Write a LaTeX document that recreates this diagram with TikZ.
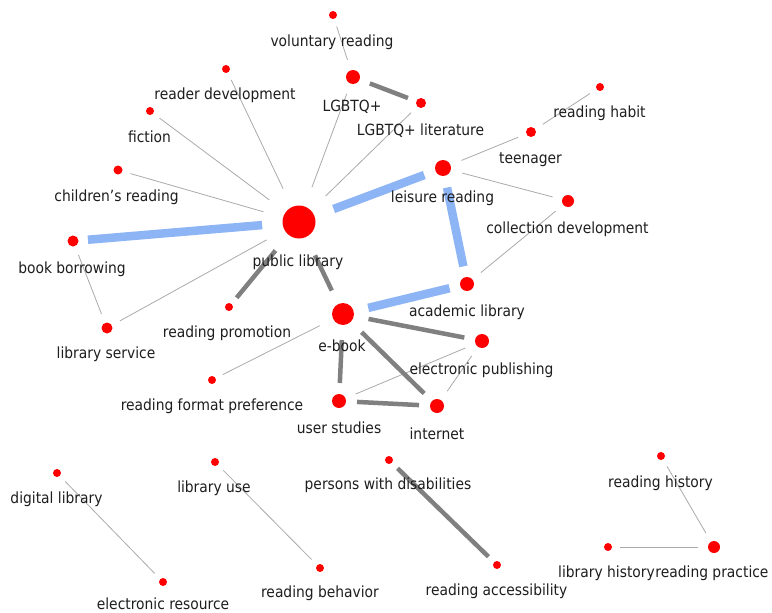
\documentclass[tikz,border=0pt]{standalone}
\usepackage{fontspec}
\setmainfont{DejaVu Sans Condensed}
\pgfdeclarelayer{bg}
\pgfsetlayers{bg,main}
\definecolor{nodered}{RGB}{255,0,0}
\definecolor{blueedge}{RGB}{141,180,245}
\definecolor{grayedge}{RGB}{128,128,128}
\definecolor{thinedge}{RGB}{170,170,170}
\definecolor{labeltext}{RGB}{30,30,30}
\tikzset{
  dot/.style={circle, fill=nodered, inner sep=0pt, minimum size={2*#1pt}, outer sep={#1pt+4pt}},
  lbl/.style={anchor=base, inner sep=0pt, text=labeltext, font=\fontsize{15.4}{18}\selectfont},
  tedge/.style={draw=thinedge, line width=0.8pt},
  gedge/.style={draw=grayedge, line width=4.5pt},
  bedge/.style={draw=blueedge, line width=8.5pt},
}
\begin{document}
\begin{tikzpicture}[x=1pt,y=-1pt]
\useasboundingbox (0,0) rectangle (772,613);
% nodes
\node[dot=16.5] (pl) at (299,222) {};
\node[dot=4] (vr) at (333,15) {};
\node[dot=7] (lg) at (353,77) {};
\node[dot=5] (lgl) at (421,103) {};
\node[dot=4] (rd) at (226,69) {};
\node[dot=4] (fi) at (150,111) {};
\node[dot=4.5] (cr) at (118,170) {};
\node[dot=5.5] (bb) at (73,241) {};
\node[dot=5.5] (ls) at (107,328) {};
\node[dot=4] (rp) at (229,307) {};
\node[dot=4] (rfp) at (212,380) {};
\node[dot=11] (eb) at (343,314) {};
\node[dot=7] (us) at (339,401) {};
\node[dot=8] (lr) at (443,168) {};
\node[dot=5] (te) at (531,132) {};
\node[dot=4] (rh) at (600,87) {};
\node[dot=6] (cd) at (568,201) {};
\node[dot=7] (al) at (467,284) {};
\node[dot=7] (ep) at (482,341) {};
\node[dot=7] (in) at (437,406) {};
\node[dot=4] (pwd) at (389,460) {};
\node[dot=4] (ra) at (497,565) {};
\node[dot=4] (rhi) at (661,456) {};
\node[dot=4] (lh) at (608,547) {};
\node[dot=6] (rpr) at (714,547) {};
\node[dot=4] (dl) at (57,473) {};
\node[dot=4] (er) at (163,582) {};
\node[dot=4] (lu) at (215,462) {};
\node[dot=4] (rb) at (320,568) {};
% labels
\node[lbl] (t-vr) at (332,46) {voluntary reading};
\node[lbl] (t-rd) at (225,99) {reader development};
\node[lbl] (t-lg) at (352,111) {LGBTQ+};
\node[lbl] (t-fi) at (149.5,142) {fiction};
\node[lbl] (t-cr) at (116.5,201) {children’s reading};
\node[lbl] (t-bb) at (72,273) {book borrowing};
\node[lbl] (t-pl) at (298,266) {public library};
\node[lbl] (t-lgl) at (420.5,135) {LGBTQ+ literature};
\node[lbl] (t-rh) at (599.5,117) {reading habit};
\node[lbl] (t-te) at (530.5,163) {teenager};
\node[lbl] (t-lr) at (442.5,202) {leisure reading};
\node[lbl] (t-cd) at (567.5,233) {collection development};
\node[lbl] (t-al) at (467,316.5) {academic library};
\node[lbl] (t-ep) at (481.5,374) {electronic publishing};
\node[lbl] (t-in) at (437,439) {internet};
\node[lbl] (t-pwd) at (388,489) {persons with disabilities};
\node[lbl] (t-ra) at (496.5,595) {reading accessibility};
\node[lbl] (t-rhi) at (660.5,487) {reading history};
\node[lbl] (t-lh) at (606.5,577) {library history};
\node[lbl] (t-rpr) at (712,577) {reading practice};
\node[lbl] (t-ls) at (106,358) {library service};
\node[lbl] (t-rp) at (227,337) {reading promotion};
\node[lbl] (t-eb) at (342,351) {e-book};
\node[lbl] (t-rfp) at (212,410) {reading format preference};
\node[lbl] (t-us) at (339,433) {user studies};
\node[lbl] (t-dl) at (56.5,503) {digital library};
\node[lbl] (t-lu) at (214,492) {library use};
\node[lbl] (t-er) at (163,609) {electronic resource};
\node[lbl] (t-rb) at (320,597) {reading behavior};
% edges
\begin{pgfonlayer}{bg}
\fill[white] (0,0) rectangle (772,613);
\draw[tedge] (vr) -- (lg);
\draw[tedge] (pl) -- (rd);
\draw[tedge] (pl) -- (fi);
\draw[tedge] (pl) -- (cr);
\draw[tedge] (pl) -- (lg);
\draw[tedge] (pl) -- (lgl);
\draw[tedge] (pl) -- (ls);
\draw[tedge] (bb) -- (ls);
\draw[tedge] (lr) -- (te);
\draw[tedge] (te) -- (rh);
\draw[tedge] (lr) -- (cd);
\draw[tedge] (cd) -- (al);
\draw[tedge] (eb) -- (rfp);
\draw[tedge] (ep) -- (us);
\draw[tedge] (ep) -- (in);
\draw[tedge] (dl) -- (er);
\draw[tedge] (lu) -- (rb);
\draw[tedge] (rhi) -- (rpr);
\draw[tedge] (lh) -- (rpr);
\draw[gedge] (lg) -- (lgl);
\draw[gedge] (pl) -- (rp);
\draw[gedge] (pl) -- (eb);
\draw[gedge] (eb) -- (ep);
\draw[gedge] (eb) -- (in);
\draw[gedge] (eb) -- (us);
\draw[gedge] (us) -- (in);
\draw[gedge] (pwd) -- (ra);
\draw[bedge] (pl) -- (bb);
\draw[bedge] (pl) -- (lr);
\draw[bedge] (lr) -- (al);
\draw[bedge] (al) -- (eb);
\end{pgfonlayer}
\end{tikzpicture}
\end{document}
